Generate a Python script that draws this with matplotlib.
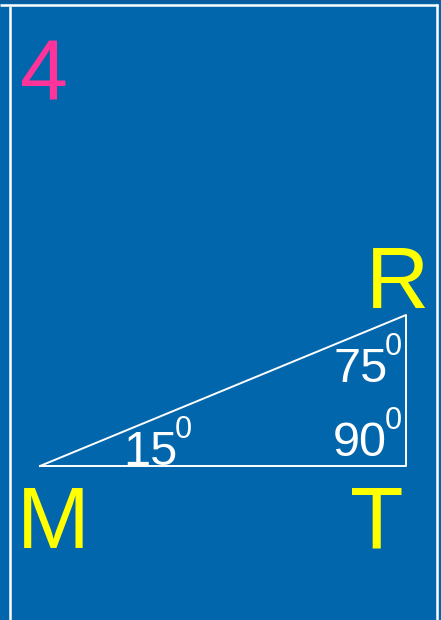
import matplotlib.pyplot as plt

# triangle vertices (pixel coords, y down)
tri_x = [40, 406, 406, 40]
tri_y = [466, 466, 315, 466]

# vertex labels
vert_labels = ["M", "T", "R"]
vert_x = [17, 350, 366]
vert_y = [548, 548, 308]

# angle labels
angle_vals = ["15", "75", "90"]
angle_x = [123, 333, 333]
angle_y = [465, 382, 456]

bg = "#0266AC"

fig = plt.figure(figsize=(4.41, 6.2), dpi=100)
fig.patch.set_facecolor(bg)
ax = fig.add_axes([0, 0, 1, 1])
ax.set_facecolor(bg)
ax.set_xlim(0, 441)
ax.set_ylim(620, 0)
ax.axis("off")

# top darker strip and frame lines
ax.axhspan(0, 3, color="#0A5C9C", lw=0)
ax.plot([0, 438], [5, 5], color="white", lw=1.8, solid_capstyle="butt")
ax.plot([9.5, 9.5], [6, 620], color="white", lw=1.8, solid_capstyle="butt")
ax.plot([436.5, 436.5], [4, 620], color="white", lw=1.8, solid_capstyle="butt")

# triangle
ax.plot(tri_x, tri_y, color="white", lw=1.4)

font = "Liberation Sans"

# card number
ax.text(20, 100, "4", color="#FF3399", fontsize=62, family=font, va="baseline", ha="left")

for lab, x, y in zip(vert_labels, vert_x, vert_y):
    ax.text(x, y, lab, color="#FFFF00", fontsize=63, family=font, va="baseline", ha="left")

for val, x, y in zip(angle_vals, angle_x, angle_y):
    ax.text(x, y, val, color="white", fontsize=35, family=font, va="baseline", ha="left")
    ax.text(x + 52, y - 27, "0", color="white", fontsize=22, family=font, va="baseline", ha="left")

fig.savefig("out.png", dpi=100, facecolor=bg)
